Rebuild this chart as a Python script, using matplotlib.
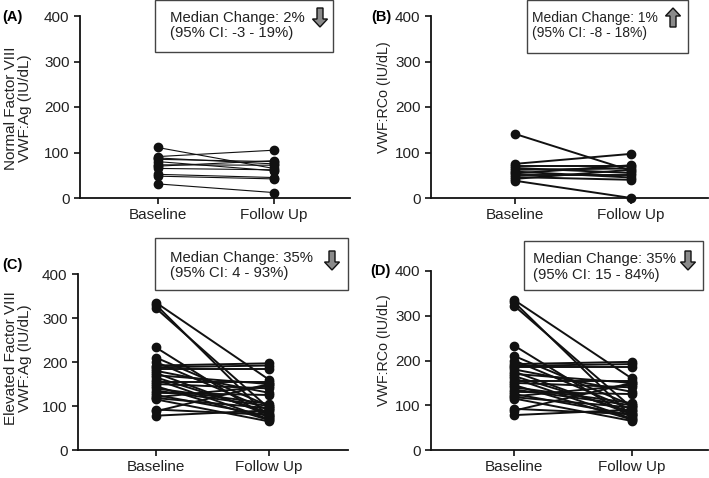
import matplotlib
matplotlib.use("Agg")
import matplotlib.pyplot as plt
from matplotlib.patches import Polygon, Rectangle

plt.rcParams['font.family'] = ['Liberation Sans', 'DejaVu Sans']

W, H = 709, 478

timepoints = ['Baseline', 'Follow Up']
yticks = [0, 100, 200, 300, 400]

# (A) normal FVIII, VWF:Ag
a_baseline = [111, 91, 88, 85, 80, 73, 70, 65, 52, 48, 31]
a_followup = [65, 105, 75, 80, 60, 72, 82, 62, 45, 42, 12]

# (B) normal FVIII, VWF:RCo
b_baseline = [141, 75, 70, 66, 62, 58, 54, 50, 46, 42, 38]
b_followup = [60, 97, 70, 55, 65, 45, 72, 50, 40, 62, 0]

# (C) elevated FVIII, VWF:Ag
c_baseline = [335, 330, 322, 233, 210, 200, 192, 188, 185, 180, 175, 170, 165,
              160, 155, 150, 145, 140, 135, 130, 125, 120, 118, 115, 92, 88, 78]
c_followup = [160, 75, 95, 72, 100, 90, 197, 192, 185, 130, 80, 150, 85,
              70, 155, 140, 68, 105, 100, 125, 78, 145, 95, 65, 80, 150, 90]

# (D) elevated FVIII, VWF:RCo
d_baseline = [335, 330, 322, 233, 210, 200, 192, 188, 185, 180, 175, 170, 165,
              160, 155, 150, 145, 140, 135, 130, 125, 120, 118, 115, 92, 88, 78]
d_followup = [160, 75, 95, 72, 100, 90, 197, 192, 185, 130, 80, 150, 85,
              70, 155, 140, 68, 105, 100, 125, 78, 145, 95, 65, 80, 150, 90]

panels = [
    dict(tag='(A)', base=a_baseline, follow=a_followup, lw=0.8,
         ylabel='Normal Factor VIII\nVWF:Ag (IU/dL)', ylab_fs=11,
         median='Median Change: 2%', ci='(95% CI: -3 - 19%)', up=False, box_fs=10.7,
         ax_px=(80, 350, 16, 198), xlim=(-0.67, 1.66),
         tag_px=(2, 17), ylab_px=(18, 108),
         box_px=(155, 333, 0, 52), text_px=(170, 18, 33), arrow_px=(320, 8)),
    dict(tag='(B)', base=b_baseline, follow=b_followup, lw=1.4,
         ylabel='VWF:RCo (IU/dL)', ylab_fs=10.3,
         median='Median Change: 1%', ci='(95% CI: -8 - 18%)', up=True, box_fs=10,
         ax_px=(431, 708, 16, 198), xlim=(-0.72, 1.66),
         tag_px=(371, 17), ylab_px=(384, 97),
         box_px=(527, 688, 0, 53), text_px=(532, 18, 33), arrow_px=(673, 8)),
    dict(tag='(C)', base=c_baseline, follow=c_followup, lw=1.4,
         ylabel='Elevated Factor VIII\nVWF:Ag (IU/dL)', ylab_fs=11,
         median='Median Change: 35%', ci='(95% CI: 4 - 93%)', up=False, box_fs=10.7,
         ax_px=(78, 348, 274, 450), xlim=(-0.69, 1.70),
         tag_px=(2, 265), ylab_px=(18, 358),
         box_px=(155, 348, 238, 290), text_px=(170, 258, 273), arrow_px=(332, 251)),
    dict(tag='(D)', base=d_baseline, follow=d_followup, lw=1.4,
         ylabel='VWF:RCo (IU/dL)', ylab_fs=10.3,
         median='Median Change: 35%', ci='(95% CI: 15 - 84%)', up=False, box_fs=10.7,
         ax_px=(431, 708, 271, 450), xlim=(-0.71, 1.65),
         tag_px=(370, 271), ylab_px=(384, 350),
         box_px=(524, 703, 241, 290), text_px=(533, 259, 275), arrow_px=(688, 251)),
]


def fx(x):
    return x / W


def fy(y):
    return 1 - y / H


def draw_arrow(fig, cx, top, up):
    # block arrow, 15 px wide, 19 px tall, in pixel units
    hw, sw, tot, hh = 7.5, 3, 19, 8
    if up:
        pts = [(cx, top), (cx + hw, top + hh), (cx + sw, top + hh), (cx + sw, top + tot),
               (cx - sw, top + tot), (cx - sw, top + hh), (cx - hw, top + hh)]
    else:
        bot = top + tot
        pts = [(cx, bot), (cx + hw, bot - hh), (cx + sw, bot - hh), (cx + sw, top),
               (cx - sw, top), (cx - sw, bot - hh), (cx - hw, bot - hh)]
    poly = Polygon([(fx(x), fy(y)) for x, y in pts], closed=True,
                   facecolor='#8a8a8a', edgecolor='#111111', linewidth=1.0,
                   transform=fig.transFigure)
    fig.patches.append(poly)


fig = plt.figure(figsize=(W / 100, H / 100), dpi=100)

for p in panels:
    x0, x1, y0, y1 = p['ax_px']
    ax = fig.add_axes([fx(x0), fy(y1), (x1 - x0) / W, (y1 - y0) / H])
    for b, f in zip(p['base'], p['follow']):
        ax.plot([0, 1], [b, f], color='#111111', lw=p['lw'], marker='o',
                markersize=6, markerfacecolor='#111111', markeredgecolor='#111111',
                clip_on=False, zorder=3)
    ax.set_xlim(*p['xlim'])
    ax.set_ylim(0, 400)
    ax.set_xticks([0, 1])
    ax.set_xticklabels(timepoints)
    ax.set_yticks(yticks)
    ax.tick_params(axis='both', labelsize=11, width=1.2, length=4, colors='#111111',
                   labelcolor='#222222')
    for s in ['top', 'right']:
        ax.spines[s].set_visible(False)
    for s in ['left', 'bottom']:
        ax.spines[s].set_linewidth(1.3)
        ax.spines[s].set_color('#111111')

    fig.text(fx(p['tag_px'][0]), fy(p['tag_px'][1]), p['tag'], fontsize=10.5,
             fontweight='bold', ha='left', va='center')
    fig.text(fx(p['ylab_px'][0]), fy(p['ylab_px'][1]), p['ylabel'], fontsize=p['ylab_fs'],
             rotation=90, ha='center', va='center', color='#222222', linespacing=1.0)

    bx0, bx1, by0, by1 = p['box_px']
    fig.patches.append(Rectangle((fx(bx0), fy(by1)), (bx1 - bx0) / W, (by1 - by0) / H,
                                 transform=fig.transFigure, facecolor='white',
                                 edgecolor='#444444', linewidth=1.0))
    tx, ty1, ty2 = p['text_px']
    fig.text(fx(tx), fy(ty1), p['median'], fontsize=p['box_fs'], ha='left', va='center', color='#222222')
    fig.text(fx(tx), fy(ty2), p['ci'], fontsize=p['box_fs'], ha='left', va='center', color='#222222')
    draw_arrow(fig, p['arrow_px'][0], p['arrow_px'][1], p['up'])

fig.savefig('out.png', dpi=100)
